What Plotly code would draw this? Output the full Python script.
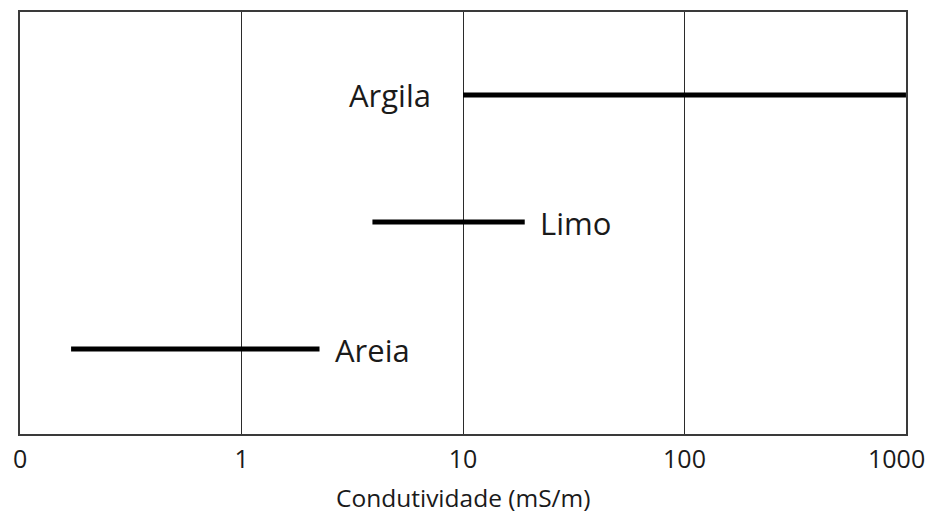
import math
import plotly.graph_objects as go

# Conductivity ranges (mS/m) per soil type
soils = ["Areia", "Limo", "Argila"]
cond_min = [0.17, 3.9, 10]
cond_max = [2.25, 19, 1000]

tick_vals = [0.1, 1, 10, 100, 1000]
tick_text = ["0", "1", "10", "100", "1000"]
x_title = "Condutividade (mS/m)"

FONT = "Open Sans"
TEXT_COLOR = "#1a1a1a"

fig = go.Figure()

for name, lo, hi in zip(soils, cond_min, cond_max):
    fig.add_trace(go.Scatter(
        x=[lo, hi], y=[name, name], mode="lines",
        line=dict(color="black", width=5),
        showlegend=False, hoverinfo="skip",
    ))

# Labels: Argila sits to the left of its bar, the others to the right
# (annotation x on a log axis is given in log10 units)
for name, lo, hi in zip(soils, cond_min, cond_max):
    if name == "Argila":
        fig.add_annotation(x=math.log10(lo), y=name, xref="x", yref="y", text=name,
                           showarrow=False, xanchor="right", yanchor="middle",
                           xshift=-30, yshift=0,
                           font=dict(family=FONT, size=31, color=TEXT_COLOR))
    else:
        fig.add_annotation(x=math.log10(hi), y=name, xref="x", yref="y", text=name,
                           showarrow=False, xanchor="left", yanchor="middle",
                           xshift=13, yshift=-1,
                           font=dict(family=FONT, size=31, color=TEXT_COLOR))

# The last tick label is right-aligned at the plot edge so it stays on the page
axis_ticks = [t if v != tick_vals[-1] else "" for v, t in zip(tick_vals, tick_text)]
fig.add_annotation(x=math.log10(tick_vals[-1]), y=0, xref="x", yref="paper",
                   text=tick_text[-1], showarrow=False,
                   xanchor="right", yanchor="top", xshift=21, yshift=-5,
                   font=dict(family=FONT, size=25, color=TEXT_COLOR))

# Axis title, placed near the bottom edge
fig.add_annotation(x=0.5, y=0, xref="paper", yref="paper", text=x_title,
                   showarrow=False, xanchor="center", yanchor="top", yshift=-45,
                   font=dict(family=FONT, size=24.5, color=TEXT_COLOR))

fig.update_xaxes(
    type="log", range=[-1.0002, 3.0002],
    tickvals=tick_vals, ticktext=axis_ticks,
    ticks="", ticklabelstandoff=2,
    tickfont=dict(family=FONT, size=25, color=TEXT_COLOR),
    showgrid=True, gridcolor="#2b2b2b", gridwidth=1,
    showline=True, linecolor="#3a3a3a", linewidth=2, mirror=True,
    zeroline=False, automargin=False,
)
fig.update_yaxes(
    type="category", categoryarray=soils,
    range=[-0.669, 2.654],
    showticklabels=False, ticks="", showgrid=False, zeroline=False,
    showline=True, linecolor="#3a3a3a", linewidth=2, mirror=True,
    automargin=False,
)

fig.update_layout(
    width=929, height=513,
    margin=dict(l=20, r=23, t=12, b=79),
    paper_bgcolor="white", plot_bgcolor="white",
)

fig.write_html("out.html")
